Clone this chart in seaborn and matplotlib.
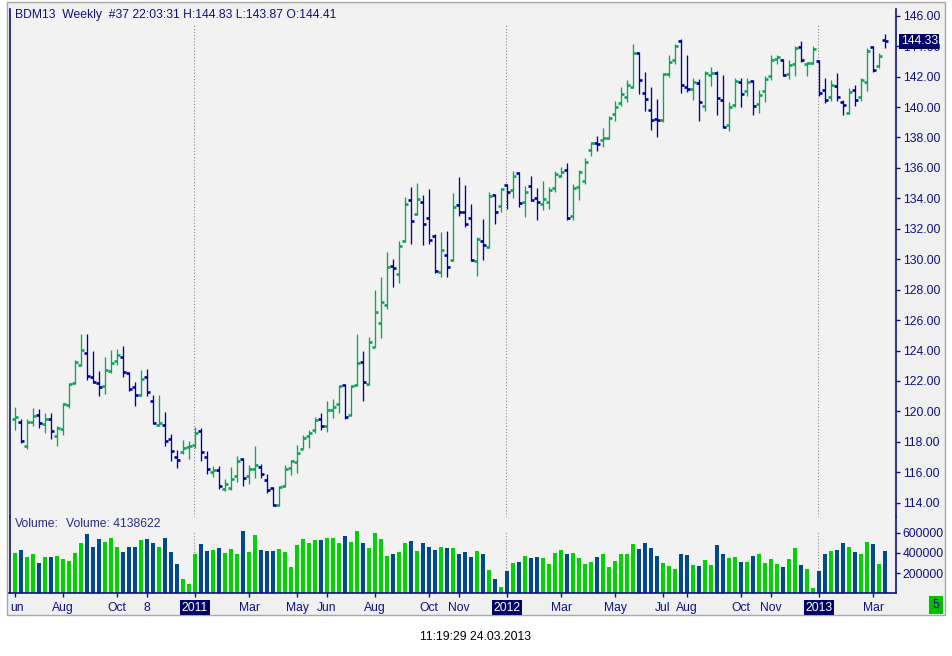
import numpy as np
import pandas as pd
import matplotlib
matplotlib.use("Agg")
import matplotlib.pyplot as plt
import matplotlib.transforms as mtransforms
from matplotlib.patches import Rectangle
import seaborn as sns

# ---------------- data (weekly bars, Jun 2010 .. Mar 2013) ----------------
opens = [119.50, 119.30, 117.73, 119.30, 119.76, 119.17, 119.50, 118.38, 118.84, 120.42,
         121.87, 123.05, 123.84, 122.26, 121.87, 121.67, 122.65, 123.31, 123.57, 122.52,
         121.60, 121.08, 122.26, 120.68, 119.11, 119.13, 118.19, 117.02, 117.33, 117.66,
         117.79, 118.73, 117.00, 116.02, 116.15, 114.90, 114.97, 115.75, 116.87, 115.75,
         116.21, 116.35, 115.49, 114.97, 113.85, 115.10, 116.28, 116.67, 117.53, 118.40,
         118.78, 119.52, 119.04, 120.11, 120.49, 121.73, 119.74, 121.73, 123.24, 121.80,
         124.23, 125.80, 126.99, 129.55, 129.03, 131.20, 133.89, 132.97, 133.76, 132.71,
         131.52, 129.16, 130.27, 129.95, 133.56, 133.10, 132.71, 129.88, 131.20, 130.80,
         134.22, 133.50, 134.87, 134.55, 135.66, 133.76, 134.81, 134.02, 133.63, 133.76,
         134.68, 135.47, 135.86, 132.84, 134.74, 135.14, 137.17, 137.63, 137.83, 137.96,
         139.54, 140.26, 140.66, 141.31, 143.55, 140.92, 139.80, 139.21, 139.15, 142.19,
         143.09, 144.34, 141.31, 141.18, 141.58, 140.07, 142.10, 142.23, 140.46, 138.82,
         140.13, 141.64, 141.05, 141.71, 140.20, 141.05, 142.06, 143.18, 143.11, 142.17,
         142.83, 143.96, 142.85, 142.89, 143.04, 141.12, 140.66, 141.38, 140.33, 139.61,
         141.12, 140.66, 141.64, 143.94, 142.67, 144.41]
highs = [120.29, 119.52, 119.52, 120.25, 120.18, 119.92, 119.92, 119.06, 120.55, 121.87,
         123.40, 125.11, 125.11, 123.99, 122.68, 123.55, 124.06, 124.10, 124.27, 122.59,
         121.91, 122.74, 122.81, 121.10, 121.10, 119.94, 118.51, 117.48, 118.14, 118.08,
         119.00, 118.91, 117.42, 116.39, 116.43, 115.58, 116.37, 117.09, 116.94, 116.48,
         117.75, 116.54, 115.89, 115.03, 115.08, 116.48, 116.83, 117.79, 118.47, 118.80,
         119.63, 119.90, 120.66, 120.82, 121.76, 121.80, 121.76, 125.10, 124.00, 124.91,
         128.00, 128.80, 130.50, 130.03, 131.20, 134.11, 134.77, 135.03, 134.24, 134.63,
         131.68, 131.81, 131.87, 134.37, 135.42, 134.90, 133.65, 131.46, 132.66, 134.44,
         134.28, 134.70, 134.96, 135.82, 135.71, 134.83, 135.49, 134.70, 135.16, 134.76,
         135.82, 136.08, 136.32, 134.96, 135.88, 136.67, 137.70, 138.12, 138.64, 139.43,
         140.37, 141.33, 141.80, 144.16, 143.60, 142.32, 141.31, 140.55, 142.23, 143.44,
         144.16, 144.49, 143.44, 141.90, 141.84, 142.39, 142.63, 142.34, 142.12, 140.33,
         141.91, 141.91, 141.91, 141.77, 141.14, 142.06, 143.44, 143.44, 143.15, 143.11,
         143.99, 144.36, 142.96, 143.99, 143.11, 141.91, 141.77, 142.23, 140.44, 141.25,
         141.47, 141.91, 143.88, 143.99, 143.55, 144.83]
lows = [118.76, 117.92, 117.53, 119.06, 118.89, 118.56, 118.21, 117.75, 118.47, 120.22,
        121.80, 122.96, 122.08, 121.85, 120.99, 121.12, 122.50, 123.03, 122.24, 121.32,
        120.38, 121.01, 121.01, 119.19, 119.06, 117.70, 116.72, 116.26, 117.22, 116.85,
        117.60, 116.76, 115.86, 115.67, 114.90, 114.75, 114.81, 115.36, 115.08, 115.21,
        115.60, 115.60, 114.64, 113.80, 113.76, 115.00, 115.80, 115.93, 117.50, 117.60,
        118.56, 118.80, 118.62, 119.57, 119.90, 119.50, 119.67, 121.70, 120.66, 121.76,
        124.20, 124.80, 126.73, 128.15, 128.41, 131.10, 130.98, 132.88, 130.91, 130.98,
        129.07, 128.81, 128.81, 129.86, 132.82, 132.09, 129.86, 128.87, 129.92, 130.73,
        132.29, 133.08, 133.28, 134.00, 133.45, 132.75, 133.80, 132.55, 133.21, 133.28,
        134.39, 135.40, 132.55, 132.55, 133.87, 134.94, 136.76, 137.09, 137.35, 137.90,
        139.06, 140.07, 140.30, 141.25, 140.85, 139.74, 138.47, 138.00, 139.00, 141.97,
        142.82, 140.92, 140.98, 140.46, 139.06, 139.76, 141.40, 139.45, 138.62, 138.40,
        140.00, 140.00, 140.70, 139.45, 139.61, 140.31, 141.80, 142.83, 142.05, 141.84,
        142.06, 142.96, 142.02, 142.83, 140.70, 140.24, 140.39, 140.42, 139.45, 139.54,
        140.04, 140.42, 141.03, 142.28, 142.56, 143.87]
closes = [119.63, 118.05, 119.30, 119.70, 119.24, 119.50, 118.71, 118.91, 120.49, 121.80,
          123.25, 124.03, 122.32, 121.93, 121.60, 122.72, 123.18, 123.70, 122.59, 121.47,
          121.08, 122.13, 121.27, 119.24, 119.24, 118.05, 117.40, 116.78, 117.60, 117.73,
          118.58, 117.33, 116.21, 116.15, 115.10, 115.23, 115.56, 116.74, 115.62, 116.21,
          116.48, 115.89, 114.83, 113.85, 115.03, 116.21, 116.74, 117.27, 118.25, 118.60,
          119.43, 119.04, 120.09, 120.29, 121.67, 119.63, 121.67, 123.20, 121.93, 124.56,
          126.53, 127.19, 129.49, 129.42, 130.87, 133.63, 132.51, 133.96, 132.31, 131.26,
          129.22, 130.58, 129.49, 133.43, 133.10, 132.31, 129.95, 131.33, 130.93, 134.15,
          133.10, 134.61, 134.41, 135.49, 133.69, 134.41, 133.89, 133.76, 133.96, 134.55,
          135.60, 135.73, 132.71, 134.68, 135.73, 136.39, 137.63, 137.55, 137.96, 139.28,
          140.00, 140.87, 141.44, 143.55, 141.77, 140.52, 139.17, 139.12, 142.19, 142.96,
          144.01, 141.44, 141.18, 141.64, 140.33, 142.23, 142.23, 140.59, 138.69, 140.02,
          141.71, 140.85, 141.64, 140.07, 140.79, 141.86, 143.11, 143.29, 142.12, 142.76,
          143.90, 143.09, 142.89, 143.83, 140.92, 140.46, 141.45, 140.66, 140.13, 140.99,
          140.46, 141.77, 143.70, 142.45, 143.35, 144.33]
volumes = [403, 430, 360, 390, 303, 360, 360, 370, 340, 320,
           403, 493, 583, 463, 533, 510, 550, 463, 410, 463,
           463, 523, 533, 493, 463, 550, 410, 293, 140, 90,
           393, 483, 423, 433, 450, 403, 440, 393, 613, 413,
           573, 430, 423, 423, 443, 413, 263, 473, 533, 493,
           523, 523, 543, 543, 500, 563, 503, 613, 493, 453,
           593, 533, 373, 393, 413, 493, 513, 423, 493, 463,
           433, 463, 453, 453, 393, 413, 363, 423, 393, 230,
           143, 63, 223, 303, 313, 370, 350, 360, 350, 293,
           400, 430, 393, 400, 350, 293, 313, 360, 393, 263,
           323, 393, 393, 483, 440, 493, 453, 370, 303, 270,
           240, 393, 380, 280, 270, 330, 280, 473, 393, 350,
           360, 310, 310, 370, 393, 303, 340, 293, 263, 343,
           450, 280, 240, 53, 223, 393, 420, 430, 500, 460,
           410, 393, 510, 483, 293, 420]
volumes = [v * 1000 for v in volumes]

tick_weeks = [0, 8, 17, 22, 30, 39, 47, 52, 60, 69, 74, 82, 91, 100, 108, 112, 121, 126, 134, 143]
tick_labels = ["un", "Aug", "Oct", "8", "2011", "Mar", "May", "Jun", "Aug", "Oct", "Nov",
               "2012", "Mar", "May", "Jul", "Aug", "Oct", "Nov", "2013", "Mar"]
year_weeks = [30, 82, 134]
price_ticks = list(range(114, 147, 2))
vol_ticks = [200000, 400000, 600000]

title = "BDM13  Weekly  #37 22:03:31 H:144.83 L:143.87 O:144.41"
vol_title = "Volume:"
vol_value = "Volume: 4138622"
stamp = "11:19:29 24.03.2013"

# ---------------- style ----------------
sns.set_theme(style="white")
plt.rcParams["font.family"] = ["Liberation Sans", "DejaVu Sans"]

NAVY = "#10107e"
UP = "#0aa55a"
DOWN = "#0000a0"
VUP = "#00d400"
VDOWN = "#004a8c"
BG = "#f2f2f2"

W, H = 952, 656
fig = plt.figure(figsize=(W / 100, H / 100), dpi=100)
fig.patch.set_facecolor("white")
fig.add_artist(Rectangle((7 / W, 1 - 615 / H), (945 - 7) / W, (615 - 2) / H,
                         transform=fig.transFigure, facecolor="#f0f0f0",
                         edgecolor="#a8a8a8", lw=1.0, zorder=-10))

ax_left = 9.5 / W
ax_w = (895.7 - 9.5) / W
ax_p = fig.add_axes([ax_left, 1 - 517 / H, ax_w, 508 / H])
ax_v = fig.add_axes([ax_left, 1 - 593.3 / H, ax_w, 76.3 / H])

n = len(closes)
x = np.arange(n)
o = np.array(opens); c = np.array(closes)
up = c >= o
cols = np.where(up, UP, DOWN)

# ---------------- price (OHLC) ----------------
ax_p.set_facecolor(BG)
ax_p.vlines(x, lows, highs, colors=cols, lw=0.95, zorder=3)
ax_p.hlines(o, x - 0.5, x, colors=cols, lw=1.9, zorder=3)
ax_p.hlines(c, x, x + 0.5, colors=cols, lw=1.9, zorder=3)

xlim = (-0.92, 146.78)
ax_p.set_xlim(*xlim)
ax_p.set_ylim(113.06, 146.44)
ax_p.set_xticks([])
ax_p.yaxis.tick_right()
ax_p.set_yticks(price_ticks)
ax_p.set_yticklabels([f"{t:.2f}" for t in price_ticks])

for yw in year_weeks:
    ax_p.axvline(yw - 0.25, ymin=0, ymax=0.968, color="#808080",
                 lw=0.75, ls=(0, (1, 2)), zorder=1)
    ax_v.axvline(yw - 0.25, ymin=0, ymax=0.82, color="#808080",
                 lw=0.75, ls=(0, (1, 2)), zorder=1)

# last price box
blend = mtransforms.blended_transform_factory(ax_p.transAxes, ax_p.transData)
ax_p.text(1 + 5 / 886, closes[-1], f"{closes[-1]:.2f}", transform=blend,
          ha="left", va="center", fontsize=8.7, color="white", zorder=10,
          bbox=dict(boxstyle="square,pad=0.12", facecolor="#000066", edgecolor="none"))

# ---------------- volume ----------------
vdf = pd.DataFrame({"week": x, "volume": volumes, "dir": np.where(up, "up", "down")})
sns.barplot(data=vdf, x="week", y="volume", hue="dir",
            palette={"up": VUP, "down": VDOWN}, dodge=False, width=0.67,
            saturation=1, errorbar=None, legend=False, linewidth=0, ax=ax_v)
ax_v.set_facecolor(BG)
ax_v.set_xlim(*xlim)
ax_v.set_ylim(0, 755000)
ax_v.set_xlabel("")
ax_v.set_ylabel("")
ax_v.yaxis.tick_right()
ax_v.set_yticks(vol_ticks)
ax_v.set_yticklabels([str(t) for t in vol_ticks])
ax_v.set_xticks(tick_weeks)
ax_v.set_xticklabels(tick_labels)

for ax in (ax_p, ax_v):
    for s in ax.spines.values():
        s.set_color(NAVY)
        s.set_linewidth(1.2)
    ax.spines["top"].set_visible(False)
    ax.tick_params(axis="y", which="both", right=True, left=False, direction="out",
                   length=3, width=1, color=NAVY, labelcolor=NAVY, labelsize=8.7, pad=2)
ax_p.spines["bottom"].set_visible(False)
ax_v.tick_params(axis="x", bottom=True, direction="out", length=3, width=1,
                 color=NAVY, labelcolor=NAVY, labelsize=8.7, pad=3)

for lab in ax_v.get_xticklabels():
    t = lab.get_text()
    if t in ("2011", "2012", "2013"):
        lab.set_color("white")
        lab.set_bbox(dict(boxstyle="square,pad=0.15", facecolor="#000066", edgecolor="none"))
    if t == "un":
        lab.set_ha("left")
        lab.set_transform(lab.get_transform() + mtransforms.ScaledTranslation(-5 / 100, 0, fig.dpi_scale_trans))

# ---------------- texts ----------------
fig.text(15 / W, 1 - 15 / H, title, ha="left", va="center", fontsize=8.7, color=NAVY)
fig.text(15 / W, 1 - 524 / H, vol_title, ha="left", va="center", fontsize=8.7, color="#2a2a80")
fig.text(66 / W, 1 - 524 / H, vol_value, ha="left", va="center", fontsize=8.7, color="#2a2a80")
fig.text(476 / W, 1 - 637 / H, stamp, ha="center", va="center", fontsize=8.7, color="black")
fig.text(936 / W, 1 - 605 / H, "5", ha="center", va="center", fontsize=9, color=NAVY,
         bbox=dict(boxstyle="square,pad=0.25", facecolor="#00c000", edgecolor="none"))

fig.savefig("out.png", dpi=100, facecolor=fig.get_facecolor())
